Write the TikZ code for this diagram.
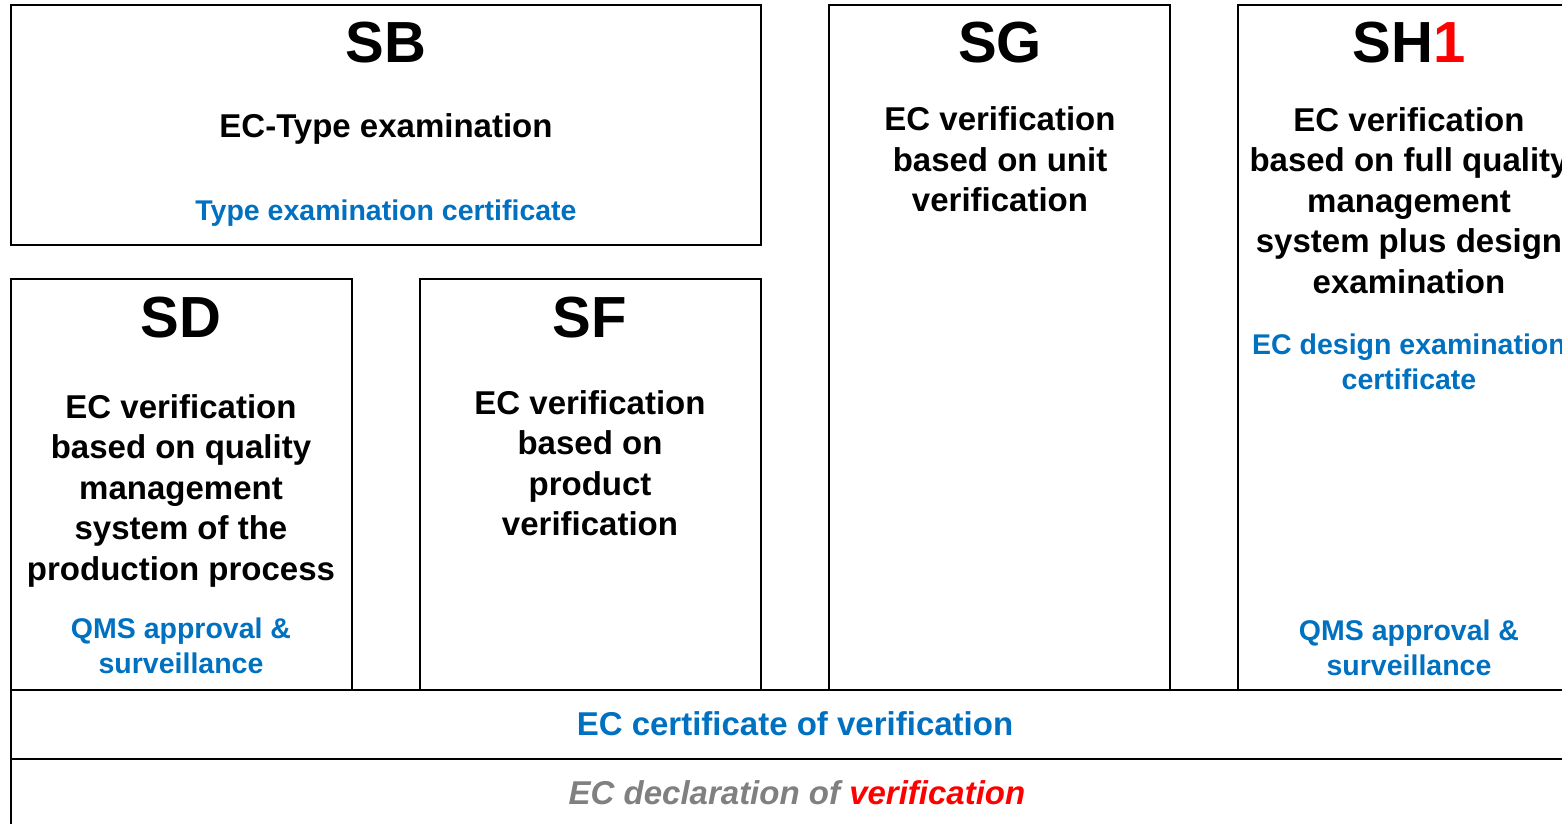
\documentclass[tikz,border=0pt]{standalone}
\usepackage{fontspec}
\setmainfont{Liberation Sans}
\definecolor{certblue}{HTML}{0070C0}
\definecolor{declgray}{HTML}{808080}
\definecolor{accred}{HTML}{FF0000}
\begin{document}
\begin{tikzpicture}[x=1pt,y=-1pt,
  box/.style={draw=black,line width=1.3pt},
  title/.style={font=\bfseries\fontsize{58}{62}\selectfont,inner sep=0pt},
  body/.style={font=\bfseries\fontsize{33}{40.5}\selectfont,align=center,inner sep=0pt},
  cert/.style={font=\bfseries\fontsize{28.5}{35}\selectfont,align=center,inner sep=0pt,text=certblue},
  band/.style={font=\bfseries\fontsize{33}{40}\selectfont,inner sep=0pt}]
\useasboundingbox (0,0) rectangle (1562,823);
\clip (0,0) rectangle (1562,823);
\fill[white] (0,0) rectangle (1562,823);
% boxes
\draw[box] (11,5) rectangle (761,245);
\draw[box] (11,279) rectangle (352,690);
\draw[box] (420,279) rectangle (761,690);
\draw[box] (829,5) rectangle (1170,690);
\draw[box] (1238,5) rectangle (1580,690);
\draw[box] (11,690) rectangle (1580,759);
\draw[box] (11,759) rectangle (1580,840);
% SB
\node[title] (sbt) at (386,43) {SB};
\node[body] (sbb) at (386,129) {EC-Type examination};
\node[cert] (sbc) at (386,213) {Type examination certificate};
% SD
\node[title] (sdt) at (181,318) {SD};
\node[body] (sdb) at (181,490.5) {EC verification\\based on quality\\management\\system of the\\production process};
\node[cert] (sdc) at (181,645.5) {QMS approval \&\\surveillance};
% SF
\node[title] (sft) at (590,318) {SF};
\node[body] (sfb) at (590,463) {EC verification\\based on\\product\\verification};
% SG
\node[title] (sgt) at (1000,43) {SG};
\node[body] (sgb) at (1000,159.5) {EC verification\\based on unit\\verification};
% SH1
\node[title] (sht) at (1409,43) {SH\textcolor{accred}{1}};
\node[body] (shb) at (1409,200.5) {EC verification\\based on full quality\\management\\system plus design\\examination};
\node[cert] (shc) at (1409,361.5) {EC design examination\\certificate};
\node[cert] (shq) at (1409,647.5) {QMS approval \&\\surveillance};
% bottom bands
\node[band,text=certblue] (cov) at (795,724) {EC certificate of verification};
\node[band,text=declgray,font=\bfseries\itshape\fontsize{33}{40}\selectfont] (dov) at (797,793) {EC declaration of \textcolor{accred}{verification}};
\end{tikzpicture}
\end{document}
